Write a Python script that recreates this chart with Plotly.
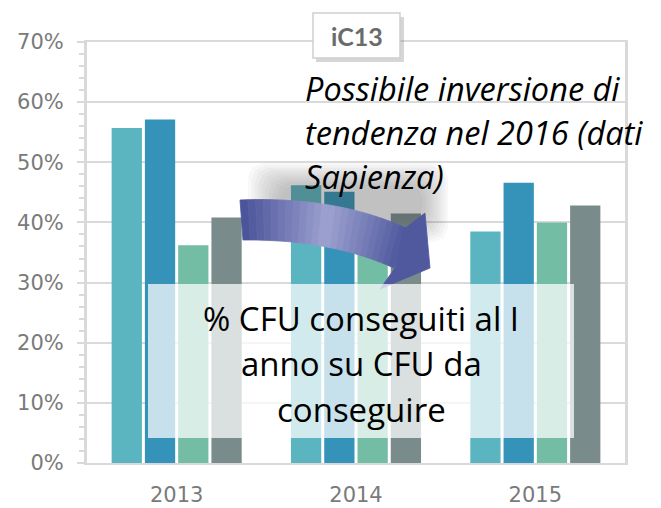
import plotly.graph_objects as go
import numpy as np

# ---- data ----
years = ["2013", "2014", "2015"]
series_a = [55.7, 46.2, 38.5]
series_b = [57.1, 45.1, 46.6]
series_c = [36.2, 38.0, 40.0]
series_d = [40.8, 41.5, 42.8]
colors = ["#5BB5C0", "#3593BA", "#74BDA5", "#7A8B8C"]

title_box = "iC13"
note_lines = ["Possibile inversione di", "tendenza nel 2016 (dati", "Sapienza)"]
box_lines = ["% CFU conseguiti al I", "anno su CFU da", "conseguire"]

W, H = 661, 508
L, R, T, B = 87, 36, 42, 45
PW, PH = W - L - R, H - T - B


def px(x):
    return (x - L) / PW


def py(y):
    return (H - B - y) / PH


def poly(points):
    return "M " + " L ".join("%.5f,%.5f" % (px(a), py(b)) for a, b in points) + " Z"


fig = go.Figure()
for vals, col in zip([series_a, series_b, series_c, series_d], colors):
    fig.add_trace(go.Bar(x=years, y=vals, marker=dict(color=col, line=dict(width=0)),
                         showlegend=False, hoverinfo="skip"))

shapes = []
# soft shadow behind arrow (stacked translucent rounded layers)
for k in range(10):
    d = k * 3.5
    x0, y0, x1, y1 = 248 + d, 163 + d * 0.7, 448 - d * 0.8, 242 - d * 0.7
    r = 14
    pts = [(x0, y0 + r), (x0 + r * 0.3, y0 + r * 0.3), (x0 + r, y0), (x1 - r, y0),
           (x1 - r * 0.3, y0 + r * 0.3), (x1, y0 + r), (x1, y1 - r), (x1 - r * 0.3, y1 - r * 0.3),
           (x1 - r, y1), (x0 + r, y1), (x0 + r * 0.3, y1 - r * 0.3), (x0, y1 - r)]
    shapes.append(dict(type="path", xref="paper", yref="paper", path=poly(pts),
                       fillcolor="rgba(70,70,70,0.04)", line=dict(width=0), layer="above"))


# arrow body as gradient strips
def bez(p0, c, p1, t):
    return ((1 - t) ** 2 * p0[0] + 2 * (1 - t) * t * c[0] + t ** 2 * p1[0],
            (1 - t) ** 2 * p0[1] + 2 * (1 - t) * t * c[1] + t ** 2 * p1[1])


top = ((240, 200), (335, 196), (406, 228))
bot = ((243, 240), (330, 239), (394, 268))
dark1 = np.array([74, 82, 152])
light = np.array([158, 163, 209])
dark2 = np.array([80, 89, 158])
N = 24
for i in range(N):
    t0, t1 = i / N, (i + 1) / N
    tm = (t0 + t1) / 2
    if tm < 0.5:
        c = dark1 + (light - dark1) * (tm / 0.5)
    else:
        c = light + (dark2 - light) * ((tm - 0.5) / 0.5)
    col = "rgb(%d,%d,%d)" % tuple(c.astype(int))
    pts = [bez(*top, t0), bez(*top, t1), bez(*bot, t1), bez(*bot, t0)]
    shapes.append(dict(type="path", xref="paper", yref="paper", path=poly(pts),
                       fillcolor=col, line=dict(color=col, width=0.8), layer="above"))
head = [(404, 229), (425, 213), (430, 268), (380, 289), (395, 268)]
shapes.append(dict(type="path", xref="paper", yref="paper", path=poly(head),
                   fillcolor="rgb(80,89,158)", line=dict(color="rgb(80,89,158)", width=0.8),
                   layer="above"))

# translucent text box
shapes.append(dict(type="rect", xref="paper", yref="paper",
                   x0=px(148), x1=px(574), y0=py(438), y1=py(284),
                   fillcolor="rgba(255,255,255,0.72)", line=dict(width=0), layer="above"))

# iC13 box with shadow
shapes.append(dict(type="rect", xref="paper", yref="paper",
                   x0=px(316), x1=px(404), y0=py(62), y1=py(17),
                   fillcolor="rgba(120,120,120,0.3)", line=dict(width=0), layer="above"))
shapes.append(dict(type="rect", xref="paper", yref="paper",
                   x0=px(313), x1=px(400), y0=py(58), y1=py(13),
                   fillcolor="white", line=dict(color="#CFCFCF", width=1.5), layer="above"))

annotations = [dict(xref="paper", yref="paper", x=px(356.5), y=py(36), text="<b>%s</b>" % title_box,
                    showarrow=False, font=dict(family="Lato", size=25, color="#6B6B6B"),
                    xanchor="center", yanchor="middle")]
for i, line in enumerate(note_lines):
    annotations.append(dict(xref="paper", yref="paper", x=px(303), y=py(88 + 44.5 * i),
                            text="<i>%s</i>" % line, showarrow=False, xanchor="left",
                            yanchor="middle", font=dict(family="Open Sans", size=32.5, color="black")))
for i, line in enumerate(box_lines):
    annotations.append(dict(xref="paper", yref="paper", x=px(361), y=py(318 + 45.5 * i),
                            text=line, showarrow=False, xanchor="center",
                            yanchor="middle", font=dict(family="Open Sans", size=33, color="black")))

fig.update_layout(
    width=W, height=H,
    margin=dict(l=L, r=R, t=T, b=B, pad=0),
    paper_bgcolor="white", plot_bgcolor="white",
    barmode="group", bargap=0.258, bargroupgap=0.09,
    shapes=shapes, annotations=annotations,
    font=dict(family="DejaVu Sans", color="#7F7F7F"),
)
fig.update_xaxes(showgrid=False, showline=True, linecolor="#D9D9D9", linewidth=2, mirror=True,
                 ticks="", tickfont=dict(size=21, color="#7A7A7A"), ticklabelstandoff=12,
                 automargin=False)
fig.update_yaxes(range=[0, 70], dtick=10, ticksuffix="%", showgrid=True, gridcolor="#DADADA",
                 gridwidth=2, showline=True, linecolor="#D9D9D9", linewidth=3, mirror=True,
                 ticks="outside", ticklen=7, tickcolor="#D9D9D9", tickwidth=2,
                 minor=dict(dtick=2, ticks="outside", ticklen=5, tickcolor="#D9D9D9", tickwidth=1.5,
                            showgrid=False),
                 tickfont=dict(size=21, color="#7A7A7A"), ticklabelstandoff=9, zeroline=False,
                 automargin=False)

fig.write_html("out.html", config={"displayModeBar": False},
               post_script="document.body.style.margin='0px';document.body.style.overflow='hidden';")
